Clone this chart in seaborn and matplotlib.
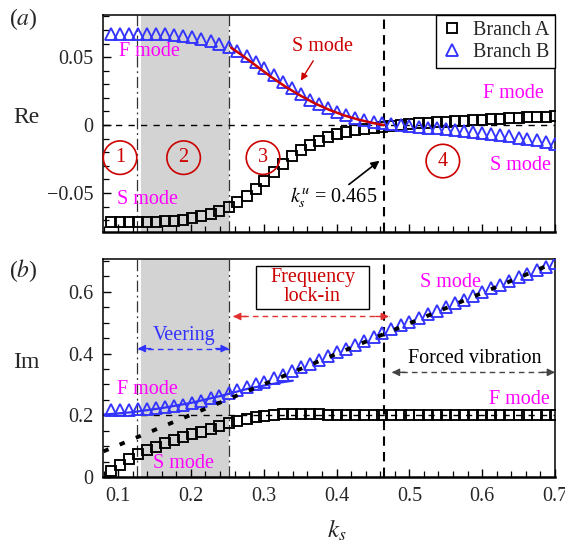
import matplotlib
matplotlib.use("Agg")
import matplotlib.pyplot as plt
import seaborn as sns
import pandas as pd
from matplotlib.patches import Rectangle
from matplotlib.ticker import MultipleLocator, FixedLocator, FixedFormatter

# ---------------------------------------------------------------- data
k_s = [0.090, 0.102, 0.115, 0.127, 0.140, 0.152, 0.165, 0.177, 0.189, 0.202,
       0.214, 0.227, 0.239, 0.252, 0.264, 0.277, 0.289, 0.301, 0.314, 0.326,
       0.339, 0.351, 0.364, 0.376, 0.388, 0.401, 0.413, 0.426, 0.438, 0.451,
       0.463, 0.475, 0.488, 0.500, 0.513, 0.525, 0.538, 0.550, 0.562, 0.575,
       0.587, 0.600, 0.612, 0.625, 0.637, 0.650, 0.662, 0.675, 0.687, 0.700]

re_branch_a = [-0.0712, -0.0714, -0.0715, -0.0715, -0.0714, -0.0712, -0.0709, -0.0704, -0.0697, -0.0687,
               -0.0673, -0.0655, -0.0632, -0.0603, -0.0567, -0.0522, -0.0470, -0.0410, -0.0345, -0.0283,
               -0.0228, -0.0184, -0.0145, -0.0114, -0.0089, -0.0069, -0.0052, -0.0039, -0.0028, -0.0019,
               -0.0011, -0.0004, 0.0002, 0.0007, 0.0012, 0.0017, 0.0021, 0.0025, 0.0029, 0.0033,
               0.0037, 0.0040, 0.0043, 0.0046, 0.0050, 0.0053, 0.0056, 0.0059, 0.0062, 0.0065]

re_branch_b = [0.0667, 0.0670, 0.0672, 0.0673, 0.0673, 0.0671, 0.0668, 0.0663, 0.0656, 0.0647,
               0.0635, 0.0620, 0.0600, 0.0575, 0.0545, 0.0505, 0.0465, 0.0420, 0.0365, 0.0315,
               0.0270, 0.0228, 0.0188, 0.0152, 0.0122, 0.0095, 0.0073, 0.0053, 0.0037, 0.0025,
               0.0015, 0.0007, 0.0000, -0.0006, -0.0012, -0.0018, -0.0024, -0.0030, -0.0037, -0.0044,
               -0.0051, -0.0058, -0.0066, -0.0074, -0.0083, -0.0092, -0.0102, -0.0113, -0.0125, -0.0140]

im_branch_a = [0.018, 0.040, 0.058, 0.073, 0.086, 0.098, 0.109, 0.119, 0.129, 0.138,
               0.147, 0.156, 0.165, 0.174, 0.182, 0.189, 0.195, 0.199, 0.202, 0.204,
               0.205, 0.205, 0.204, 0.203, 0.202, 0.201, 0.200, 0.200, 0.200, 0.200,
               0.200, 0.200, 0.200, 0.200, 0.200, 0.200, 0.200, 0.200, 0.200, 0.200,
               0.200, 0.200, 0.200, 0.200, 0.200, 0.200, 0.200, 0.200, 0.200, 0.200]

im_branch_b = [0.217, 0.217, 0.218, 0.219, 0.221, 0.223, 0.226, 0.229, 0.234, 0.240,
               0.247, 0.255, 0.263, 0.272, 0.282, 0.292, 0.301, 0.309, 0.320, 0.331,
               0.343, 0.355, 0.367, 0.379, 0.391, 0.404, 0.416, 0.429, 0.441, 0.454,
               0.466, 0.479, 0.491, 0.503, 0.515, 0.527, 0.539, 0.551, 0.563, 0.575,
               0.587, 0.599, 0.611, 0.623, 0.635, 0.647, 0.659, 0.670, 0.681, 0.692]

# S-mode curve for the real part
s_curve_k = [0.255, 0.270, 0.290, 0.310, 0.330, 0.350, 0.370, 0.390, 0.410, 0.430, 0.450, 0.465]
s_curve_re = [0.0570, 0.0515, 0.0435, 0.0355, 0.0282, 0.0218, 0.0160, 0.0112, 0.0072, 0.0040, 0.0015, 0.0000]

# F-mode curve for the imaginary part
f_curve_k = [0.080, 0.120, 0.160, 0.200, 0.240, 0.280, 0.320, 0.340]
f_curve_im = [0.202, 0.210, 0.223, 0.240, 0.262, 0.287, 0.305, 0.312]

# S-mode (Strouhal) line for the imaginary part
s_line_k = [0.080, 0.700]
s_line_im = [0.083, 0.695]

# Reference levels and regime boundaries
f_level_im = 0.2
k_veer_lo, k_veer_hi = 0.126, 0.252
shade_lo, shade_hi = 0.131, 0.252
k_lockin = 0.465

x_ticks = [0.1, 0.2, 0.3, 0.4, 0.5, 0.6, 0.7]
re_ticks = [-0.05, 0.0, 0.05]
re_tick_labels = ["\u22120.05", "0", "0.05"]
im_ticks = [0.0, 0.2, 0.4, 0.6]
im_tick_labels = ["0", "0.2", "0.4", "0.6"]

# ---------------------------------------------------------------- style
sns.set_theme(style="ticks")
plt.rcParams["font.family"] = ["Liberation Serif", "DejaVu Serif"]
plt.rcParams["mathtext.fontset"] = "stix"
plt.rcParams["axes.edgecolor"] = "black"
plt.rcParams["axes.linewidth"] = 1.1

BLUE = "#3333ff"
MAGENTA = "#ff00ff"
RED = "#cc0000"
FS = 14.5

df = pd.DataFrame({"k": k_s, "re_a": re_branch_a, "re_b": re_branch_b,
                   "im_a": im_branch_a, "im_b": im_branch_b})

fig = plt.figure(figsize=(5.65, 5.42), dpi=100)
ax_a = fig.add_axes([0.1823, 0.572, 0.800, 0.4003])
ax_b = fig.add_axes([0.1823, 0.120, 0.800, 0.4020])

sq_kw = dict(marker="s", linestyle="", markersize=7.8, markerfacecolor="none",
             markeredgecolor="black", markeredgewidth=1.35, color="black")
tri_kw = dict(marker="^", linestyle="", markersize=9.2, markerfacecolor="none",
              markeredgecolor=BLUE, markeredgewidth=1.35, color=BLUE)

for ax in (ax_a, ax_b):
    ax.axvspan(shade_lo, shade_hi, color="#d3d3d3", lw=0, zorder=0)
    for kv in (k_veer_lo, k_veer_hi):
        ax.axvline(kv, color="#333333", lw=0.9, ls=(0, (9, 3, 1.5, 3)), zorder=1)
    ax.axvline(k_lockin, color="black", lw=1.5, ls=(0, (4.5, 3)), zorder=1)

# ---------------------------------------------------------------- (a) real part
ax_a.axhline(0, color="black", lw=1.0, ls=(0, (4.5, 4.5)), zorder=1)
sns.lineplot(data=df, x="k", y="re_a", ax=ax_a, estimator=None, sort=False,
             label="Branch A", zorder=3, **sq_kw)
sns.lineplot(data=df, x="k", y="re_b", ax=ax_a, estimator=None, sort=False,
             label="Branch B", zorder=3, **tri_kw)
sns.lineplot(x=s_curve_k, y=s_curve_re, ax=ax_a, color=RED, lw=1.8,
             estimator=None, sort=False, zorder=4)

ax_a.legend(loc="upper right", borderaxespad=0, frameon=True, fancybox=False,
            edgecolor="black", framealpha=1, fontsize=FS, handlelength=1.0,
            handletextpad=0.5, borderpad=0.3, labelspacing=0.15).get_frame().set_linewidth(1.0)

ax_a.text(0.1425, 0.0544, "F mode", color=MAGENTA, fontsize=FS, ha="center", va="center")
ax_a.text(0.141, -0.0547, "S mode", color=MAGENTA, fontsize=FS, ha="center", va="center")
ax_a.text(0.643, 0.0235, "F mode", color=MAGENTA, fontsize=FS, ha="center", va="center")
ax_a.text(0.652, -0.0300, "S mode", color=MAGENTA, fontsize=FS, ha="center", va="center")
ax_a.text(0.381, 0.0580, "S mode", color=RED, fontsize=FS, ha="center", va="center")
ax_a.annotate("", xy=(0.349, 0.031), xytext=(0.370, 0.049),
              arrowprops=dict(arrowstyle="-|>", color=RED, lw=1.0, mutation_scale=10))
ax_a.text(0.396, -0.0537, r"$k_s^u$ = 0.465", color="black", fontsize=FS,
          ha="center", va="center")
ax_a.annotate("", xy=(0.462, -0.025), xytext=(0.414, -0.045),
              arrowprops=dict(arrowstyle="-|>", color="black", lw=1.2, mutation_scale=12))

for label, kx, ry in (("1", 0.1027, -0.024), ("2", 0.190, -0.024),
                      ("3", 0.299, -0.024), ("4", 0.546, -0.0265)):
    ax_a.text(kx, ry, label, color=RED, fontsize=FS, ha="center", va="center",
              bbox=dict(boxstyle="circle,pad=0.36", fc="none", ec=RED, lw=1.2))

# ---------------------------------------------------------------- (b) imaginary part
ax_b.axhline(f_level_im, color="black", lw=1.0, ls=(0, (4.5, 4.5)), zorder=1)
sns.lineplot(x=f_curve_k, y=f_curve_im, ax=ax_b, color=BLUE, lw=1.6,
             estimator=None, sort=False, zorder=2)
sns.lineplot(data=df, x="k", y="im_a", ax=ax_b, estimator=None, sort=False, zorder=3, **sq_kw)
sns.lineplot(data=df, x="k", y="im_b", ax=ax_b, estimator=None, sort=False, zorder=3, **tri_kw)
ax_b.plot(s_line_k, s_line_im, color="black", lw=2.8, ls=(0, (1.4, 3.1)), zorder=4)

ax_b.text(0.140, 0.284, "F mode", color=MAGENTA, fontsize=FS, ha="center", va="center")
ax_b.text(0.190, 0.042, "S mode", color=MAGENTA, fontsize=FS, ha="center", va="center")
ax_b.text(0.556, 0.630, "S mode", color=MAGENTA, fontsize=FS, ha="center", va="center")
ax_b.text(0.651, 0.252, "F mode", color=MAGENTA, fontsize=FS, ha="center", va="center")
ax_b.text(0.191, 0.458, "Veering", color=BLUE, fontsize=FS, ha="center", va="center")
ax_b.add_patch(Rectangle((0.289, 0.545), 0.156, 0.139, fc="white", ec="black",
                         lw=1.0, zorder=5))
ax_b.text(0.367, 0.614, "Frequency\nlock-in", color=RED, fontsize=FS, ha="center",
          va="center", linespacing=1.0, zorder=6)
ax_b.text(0.590, 0.384, "Forced vibration", color="black", fontsize=FS, ha="center", va="center")


def span_arrow(ax, x0, x1, y, color):
    """Dashed double-headed arrow between x0 and x1 at height y."""
    ax.plot([x0, x1], [y, y], color=color, lw=1.0, ls=(0, (4, 3)), zorder=5)
    head = 0.018
    ax.annotate("", xy=(x0, y), xytext=(x0 + head, y),
                arrowprops=dict(arrowstyle="-|>", color=color, lw=1.0, mutation_scale=11,
                                shrinkA=0, shrinkB=0), zorder=5)
    ax.annotate("", xy=(x1, y), xytext=(x1 - head, y),
                arrowprops=dict(arrowstyle="-|>", color=color, lw=1.0, mutation_scale=11,
                                shrinkA=0, shrinkB=0), zorder=5)


span_arrow(ax_b, 0.127, 0.252, 0.416, BLUE)
span_arrow(ax_b, 0.258, 0.472, 0.520, "#e03030")
span_arrow(ax_b, 0.476, 0.700, 0.339, "#444444")

# ---------------------------------------------------------------- axes
for ax in (ax_a, ax_b):
    ax.set_xlim(0.0793, 0.7)
    ax.xaxis.set_major_locator(FixedLocator(x_ticks))
    ax.xaxis.set_minor_locator(MultipleLocator(0.02))
    ax.tick_params(which="both", direction="in", top=False, right=False,
                   labelsize=FS, color="black")
    ax.tick_params(which="major", length=6, width=1.0, pad=7)
    ax.tick_params(which="minor", length=4, width=0.9)
    ax.set_xlabel("")
    ax.set_ylabel("")
    for s in ax.spines.values():
        s.set_color("black")
    ax.spines["bottom"].set_linewidth(1.8)

ax_a.set_ylim(-0.0787, 0.0810)
ax_a.yaxis.set_major_locator(FixedLocator(re_ticks))
ax_a.yaxis.set_major_formatter(FixedFormatter(re_tick_labels))
ax_a.yaxis.set_minor_locator(MultipleLocator(0.01))
ax_a.tick_params(axis="x", labelbottom=False)

ax_b.set_ylim(0.0, 0.706)
ax_b.yaxis.set_major_locator(FixedLocator(im_ticks))
ax_b.yaxis.set_major_formatter(FixedFormatter(im_tick_labels))
ax_b.yaxis.set_minor_locator(MultipleLocator(0.05))
ax_b.xaxis.set_major_formatter(FixedFormatter([f"{v:g}" for v in x_ticks]))

fig.text(26 / 565, 1 - 118 / 542, "Re", fontsize=17, ha="center", va="center")
fig.text(26 / 565, 1 - 363 / 542, "Im", fontsize=17, ha="center", va="center")
fig.text(23 / 565, 1 - 19 / 542, r"($a$)", fontsize=17, ha="center", va="center")
fig.text(23 / 565, 1 - 271 / 542, r"($b$)", fontsize=17, ha="center", va="center")
fig.text(337 / 565, 1 - 530 / 542, r"$k_s$", fontsize=18, ha="center", va="center")

fig.savefig("out.png", dpi=100)
